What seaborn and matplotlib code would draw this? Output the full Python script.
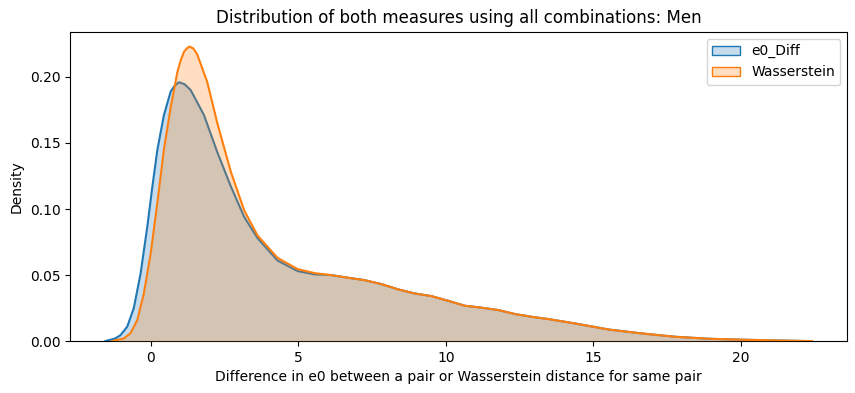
import numpy as np
import seaborn as sb
import matplotlib.pyplot as plt
from matplotlib.colors import to_rgb
from matplotlib.patches import Patch

# densities (x, density)
x_diff = [-1.53, -1.2, -1.02, -0.79, -0.57, -0.34, -0.11, 0.06, 0.23, 0.45,
          0.68, 0.82, 0.96, 1.15, 1.36, 1.81, 2.26, 2.72, 3.17, 3.62, 4.30, 4.98, 5.55]
d_diff = [0.0, 0.002, 0.0045, 0.011, 0.025, 0.051, 0.087, 0.117, 0.145, 0.171,
          0.189, 0.1935, 0.196, 0.1945, 0.190, 0.171, 0.143, 0.117, 0.094, 0.078,
          0.061, 0.053, 0.0505]

x_wass = [-1.3, -0.91, -0.68, -0.45, -0.23, 0.0, 0.23, 0.45, 0.68, 0.91, 1.02, 1.13,
          1.22, 1.32, 1.45, 1.58, 1.92, 2.26, 2.72, 3.17, 3.62, 4.30, 4.98, 5.55]
d_wass = [0.0, 0.002, 0.006, 0.016, 0.036, 0.066, 0.105, 0.145, 0.177, 0.204, 0.2125,
          0.219, 0.2215, 0.223, 0.2215, 0.217, 0.196, 0.165, 0.128, 0.099, 0.080,
          0.063, 0.0545, 0.0515]

# common right tail (both curves overlap there)
x_tail = [6.11, 6.68, 7.24, 7.81, 8.38, 8.94, 9.51, 10.08, 10.64, 11.21, 11.78,
          12.34, 12.91, 13.47, 14.37, 15.51, 16.64, 17.77, 18.9, 20.0, 21.2, 22.4]
d_tail = [0.050, 0.048, 0.0462, 0.0432, 0.0392, 0.0361, 0.0341, 0.0305, 0.0268,
          0.0253, 0.0235, 0.0205, 0.0184, 0.0167, 0.0134, 0.0088, 0.0058, 0.0033,
          0.0018, 0.0011, 0.0005, 0.0]

serii = ['e0_Diff', 'Wasserstein']
culori = ['#1f77b4', '#ff7f0e']

fig = plt.figure(figsize=(8.55, 3.93), dpi=100)
ax = fig.add_axes([0.082, 0.132, 0.909, 0.787])

curbe = [(x_diff + x_tail, d_diff + d_tail), (x_wass + x_tail, d_wass + d_tail)]
z = 1
for (xs, ds), c in zip(curbe, culori):
    ax.fill_between(xs, ds, 0, color=c, alpha=0.25, linewidth=0, zorder=z)
    sb.lineplot(x=xs, y=ds, color=c, linewidth=1.5, ax=ax, zorder=z + 1,
                solid_joinstyle='round')
    z += 2

ax.set_ylim(0, None)
ax.set_title('Distribution of both measures using all combinations: Men', fontsize=12)
ax.set_xlabel('Difference in e0 between a pair or Wasserstein distance for same pair')
ax.set_ylabel('Density')

handles = [Patch(facecolor=(*to_rgb(c), 0.25), edgecolor=c) for c in culori]
ax.legend(handles, serii, loc='upper right')

fig.savefig('out.png', dpi=100)
